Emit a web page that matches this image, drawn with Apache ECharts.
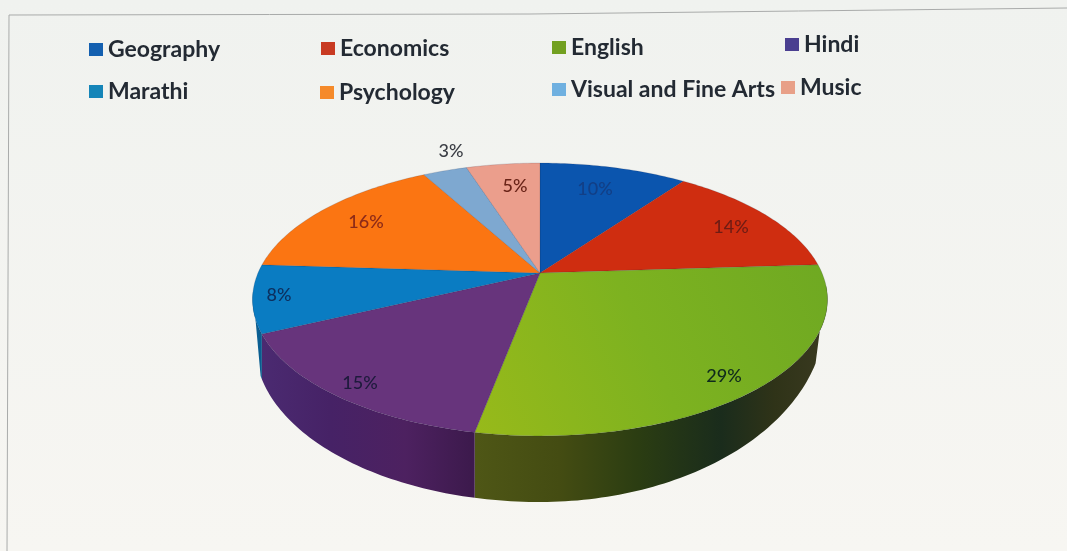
<!DOCTYPE html>
<html><head><meta charset="utf-8">
<style>html,body{margin:0;padding:0;background:#f2f3f0}#c{width:1067px;height:551px}</style>
<script src="https://cdn.jsdelivr.net/npm/echarts@6/dist/echarts.min.js"></script>
</head><body><div id="c"></div>
<script>
const categories = ['Geography','Economics','English','Hindi','Marathi','Psychology','Visual and Fine Arts','Music'];
const shares = [10,14,29,15,8,16,3,5];

const topColors = ['#0b55ae','#cf2d10',null,'#67347c','#0a7cc2','#fb7512','#7ea8d0','#eb9e8c'];
const swatchColors = ['#1460b0','#c83a22','#72a020','#4a3f90','#1585b8','#f58a2a','#6fb0e0','#e8a088'];
const labelColors = ['#123f86','#6f1c14','#0f2a1c','#1d1a3c','#0c2f5e','#8c2a18','#3a3d44','#6a2418'];
const legendSpots = [[89,38],[321,37],[552,36],[785,33],[89,80],[320,81],[552,78],[781,76]];
const labelSpots = [[595,189],[731,227],[724,376],[360,383],[279,295],[366,222],[451,151],[515,186]];

/* perspective disc: the centre of the circle lands on the apex */
const apex = {x:540,y:273}, A = 282, B = 131.3, K = 0.194;
function rim(deg){
  const t = deg*Math.PI/180, u = Math.sin(t), v = Math.cos(t), d = 1+K*v;
  return [apex.x + A*u/d, apex.y - B*v/d];
}
function floorY(x){
  const dx = x-apex.x;
  const [rx,y0,ry] = dx>=0 ? [285,316,186] : [285,345,157];
  const r = Math.min(1,Math.abs(dx)/rx);
  return y0 + ry*Math.sqrt(1-r*r);
}
const total = shares.reduce((a,b)=>a+b,0);
function sliceAngles(i){
  let before = 0;
  for(let k=0;k<i;k++) before += shares[k];
  return [before/total*360,(before+shares[i])/total*360];
}
function arc(a,b){
  const pts=[], n=Math.max(2,Math.ceil((b-a)/1));
  for(let i=0;i<=n;i++) pts.push(rim(a+(b-a)*i/n));
  return pts;
}
const hgrad = (x,x2,stops)=>({type:'linear',x:x,y:0,x2:x2,y2:0,global:true,
  colorStops:stops.map(s=>({offset:s[0],color:s[1]}))});
const wallFills = {
  2: hgrad(470,828,[[0,'#4f5716'],[0.25,'#444c12'],[0.47,'#2b3d12'],[0.7,'#1a2c1c'],[0.85,'#2f3318'],[1,'#3a3a20']]),
  3: hgrad(255,470,[[0,'#4b2b72'],[0.35,'#462266'],[0.7,'#4d2160'],[1,'#3d1a4d']]),
  4: hgrad(250,262,[[0,'#0a6aa0'],[1,'#0a5a8c']])
};
const englishTop = {type:'linear',x:470,y:430,x2:828,y2:270,global:true,
  colorStops:[{offset:0,color:'#98ba1a'},{offset:0.5,color:'#7db220'},{offset:1,color:'#6fa922'}]};

const series = categories.map((name,i)=>({
  name:name, type:'custom', coordinateSystem:'none', silent:true, animation:false,
  color:swatchColors[i], data:[[shares[i]]],
  renderItem:function(params,api){
    const [a,b] = sliceAngles(i), kids=[];
    const w0=Math.max(a,95), w1=Math.min(b,262);
    if(w1>w0){
      const top=arc(w0,w1);
      const low=top.filter(p=>p[0]>=260 && p[0]<=817)
        .map(p=>[p[0],Math.max(p[1],floorY(p[0]))]).reverse();
      kids.push({type:'polygon',shape:{points:top.concat(low)},style:{fill:wallFills[i]||topColors[i]}});
    }
    kids.push({type:'polygon',shape:{points:[[apex.x,apex.y]].concat(arc(a,b))},
      style:{fill:topColors[i]||englishTop,stroke:'rgba(20,30,60,0.25)',lineWidth:0.6}});
    kids.push({type:'text',x:labelSpots[i][0],y:labelSpots[i][1],z2:10,
      style:{text:api.value(0)+'%',fill:labelColors[i],font:'500 18px Lato',align:'center',verticalAlign:'middle'}});
    return {type:'group',children:kids};
  }
}));

const legends = categories.map((name,i)=>({
  data:[{name:name,itemStyle:{color:swatchColors[i]}}],
  left:legendSpots[i][0], top:legendSpots[i][1], orient:'horizontal', padding:0,
  icon:'rect', itemWidth:14, itemHeight:13, itemGap:0, selectedMode:false,
  textStyle:{fontFamily:'Lato',fontSize:23,fontWeight:700,color:'#232a33'}
}));

const chart = echarts.init(document.getElementById('c'),null,{renderer:'canvas'});
chart.setOption({
  animation:false,
  backgroundColor:{type:'linear',x:0,y:0,x2:0,y2:1,colorStops:[{offset:0,color:'#f0f2ef'},{offset:1,color:'#f7f6f2'}]},
  legend:legends,
  series:series,
  graphic:[{type:'polyline',silent:true,z:-1,shape:{points:[[7,551],[9,15],[530,14],[1067,8]]},
    style:{fill:'none',stroke:'#a9abaa',lineWidth:1}}]
});
</script></body></html>
